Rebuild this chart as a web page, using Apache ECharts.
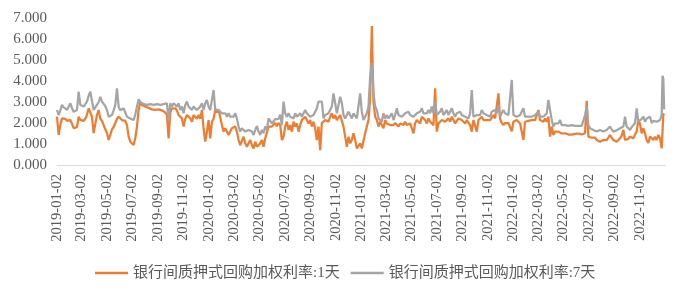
<!DOCTYPE html>
<html><head><meta charset="utf-8">
<script src="https://cdn.jsdelivr.net/npm/echarts@6/dist/echarts.min.js"></script>
<style>html,body{margin:0;padding:0;background:#fff}#c{width:684px;height:299px}</style>
</head><body><div id="c"></div>
<script>
const dates = [
'2019-01-02','2019-01-06','2019-01-10','2019-01-14','2019-01-18','2019-01-22','2019-01-26','2019-01-30',
'2019-02-03','2019-02-07','2019-02-11','2019-02-15','2019-02-19','2019-02-23','2019-02-27',
'2019-03-03','2019-03-07','2019-03-11','2019-03-15','2019-03-19','2019-03-23','2019-03-27','2019-03-31',
'2019-04-04','2019-04-08','2019-04-12','2019-04-16','2019-04-20','2019-04-24','2019-04-28',
'2019-05-02','2019-05-06','2019-05-10','2019-05-14','2019-05-18','2019-05-22','2019-05-26','2019-05-30',
'2019-06-03','2019-06-07','2019-06-11','2019-06-15','2019-06-19','2019-06-23','2019-06-27',
'2019-07-01','2019-07-05','2019-07-09','2019-07-13','2019-07-17','2019-07-21','2019-07-25','2019-07-29',
'2019-08-02','2019-08-06','2019-08-10','2019-08-14','2019-08-18','2019-08-22','2019-08-26','2019-08-30',
'2019-09-03','2019-09-07','2019-09-11','2019-09-15','2019-09-19','2019-09-23','2019-09-27',
'2019-10-01','2019-10-05','2019-10-09','2019-10-13','2019-10-17','2019-10-21','2019-10-25','2019-10-29',
'2019-11-02','2019-11-06','2019-11-10','2019-11-14','2019-11-18','2019-11-22','2019-11-26','2019-11-30',
'2019-12-04','2019-12-08','2019-12-12','2019-12-16','2019-12-20','2019-12-24','2019-12-28',
'2020-01-01','2020-01-05','2020-01-09','2020-01-13','2020-01-17','2020-01-21','2020-01-25','2020-01-29',
'2020-02-02','2020-02-06','2020-02-10','2020-02-14','2020-02-18','2020-02-22','2020-02-26',
'2020-03-01','2020-03-05','2020-03-09','2020-03-13','2020-03-17','2020-03-21','2020-03-25','2020-03-29',
'2020-04-02','2020-04-06','2020-04-10','2020-04-14','2020-04-18','2020-04-22','2020-04-26','2020-04-30',
'2020-05-04','2020-05-08','2020-05-12','2020-05-16','2020-05-20','2020-05-24','2020-05-28',
'2020-06-01','2020-06-05','2020-06-09','2020-06-13','2020-06-17','2020-06-21','2020-06-25','2020-06-29',
'2020-07-03','2020-07-07','2020-07-11','2020-07-15','2020-07-19','2020-07-23','2020-07-27','2020-07-31',
'2020-08-04','2020-08-08','2020-08-12','2020-08-16','2020-08-20','2020-08-24','2020-08-28',
'2020-09-01','2020-09-05','2020-09-09','2020-09-13','2020-09-17','2020-09-21','2020-09-25','2020-09-29',
'2020-10-03','2020-10-07','2020-10-11','2020-10-15','2020-10-19','2020-10-23','2020-10-27','2020-10-31',
'2020-11-04','2020-11-08','2020-11-12','2020-11-16','2020-11-20','2020-11-24','2020-11-28',
'2020-12-02','2020-12-06','2020-12-10','2020-12-14','2020-12-18','2020-12-22','2020-12-26','2020-12-30',
'2021-01-03','2021-01-07','2021-01-11','2021-01-15','2021-01-19','2021-01-23','2021-01-27','2021-01-31',
'2021-02-04','2021-02-08','2021-02-12','2021-02-16','2021-02-20','2021-02-24','2021-02-28',
'2021-03-04','2021-03-08','2021-03-12','2021-03-16','2021-03-20','2021-03-24','2021-03-28',
'2021-04-01','2021-04-05','2021-04-09','2021-04-13','2021-04-17','2021-04-21','2021-04-25','2021-04-29',
'2021-05-03','2021-05-07','2021-05-11','2021-05-15','2021-05-19','2021-05-23','2021-05-27','2021-05-31',
'2021-06-04','2021-06-08','2021-06-12','2021-06-16','2021-06-20','2021-06-24','2021-06-28',
'2021-07-02','2021-07-06','2021-07-10','2021-07-14','2021-07-18','2021-07-22','2021-07-26','2021-07-30',
'2021-08-03','2021-08-07','2021-08-11','2021-08-15','2021-08-19','2021-08-23','2021-08-27','2021-08-31',
'2021-09-04','2021-09-08','2021-09-12','2021-09-16','2021-09-20','2021-09-24','2021-09-28',
'2021-10-02','2021-10-06','2021-10-10','2021-10-14','2021-10-18','2021-10-22','2021-10-26','2021-10-30',
'2021-11-03','2021-11-07','2021-11-11','2021-11-15','2021-11-19','2021-11-23','2021-11-27',
'2021-12-01','2021-12-05','2021-12-09','2021-12-13','2021-12-17','2021-12-21','2021-12-25','2021-12-29',
'2022-01-02','2022-01-06','2022-01-10','2022-01-14','2022-01-18','2022-01-22','2022-01-26','2022-01-30',
'2022-02-03','2022-02-07','2022-02-11','2022-02-15','2022-02-19','2022-02-23','2022-02-27',
'2022-03-03','2022-03-07','2022-03-11','2022-03-15','2022-03-19','2022-03-23','2022-03-27','2022-03-31',
'2022-04-04','2022-04-08','2022-04-12','2022-04-16','2022-04-20','2022-04-24','2022-04-28',
'2022-05-02','2022-05-06','2022-05-10','2022-05-14','2022-05-18','2022-05-22','2022-05-26','2022-05-30',
'2022-06-03','2022-06-07','2022-06-11','2022-06-15','2022-06-19','2022-06-23','2022-06-27',
'2022-07-01','2022-07-05','2022-07-09','2022-07-13','2022-07-17','2022-07-21','2022-07-25','2022-07-29',
'2022-08-02','2022-08-06','2022-08-10','2022-08-14','2022-08-18','2022-08-22','2022-08-26','2022-08-30',
'2022-09-03','2022-09-07','2022-09-11','2022-09-15','2022-09-19','2022-09-23','2022-09-27',
'2022-10-01','2022-10-05','2022-10-09','2022-10-13','2022-10-17','2022-10-21','2022-10-25','2022-10-29',
'2022-11-02','2022-11-06','2022-11-10','2022-11-14','2022-11-18','2022-11-22','2022-11-26','2022-11-30',
'2022-12-04','2022-12-08','2022-12-12','2022-12-16','2022-12-20','2022-12-24','2022-12-26','2022-12-28','2022-12-30'
];
const r001 = [
2.30,1.43,1.90,2.22,2.25,2.20,2.10,2.06,
2.15,2.20,1.76,1.78,1.80,2.30,2.15,
2.06,2.10,2.20,2.40,2.70,2.62,2.30,1.52,
1.52,2.38,2.62,2.20,2.10,1.90,1.70,
1.52,1.19,1.43,1.70,1.81,2.00,2.20,2.30,
2.25,2.14,2.20,2.10,1.90,1.35,1.11,
1.03,0.95,1.27,1.83,2.62,3.00,2.86,2.80,
2.78,2.70,2.72,2.70,2.65,2.70,2.62,2.62,
2.65,2.70,2.60,2.62,2.50,2.38,1.27,
2.50,2.70,2.70,2.70,2.60,2.38,2.46,2.22,
1.83,2.20,2.38,2.30,2.22,2.06,2.38,2.46,
2.20,2.38,2.20,2.62,1.75,1.11,1.59,
2.14,1.27,2.06,2.20,2.62,2.50,2.62,2.62,
1.90,1.59,1.75,1.59,1.43,1.59,1.75,
1.67,1.83,1.59,1.19,0.95,1.03,1.35,1.03,
0.87,0.95,1.19,0.95,0.79,1.11,0.87,0.79,
1.03,1.19,0.87,1.27,1.35,1.83,1.90,
1.83,1.85,2.00,1.85,2.00,1.90,1.19,1.35,
1.83,2.06,1.67,1.90,1.59,2.06,1.83,1.98,
1.59,1.90,2.14,2.22,2.30,2.22,1.98,
2.14,1.83,2.06,1.75,1.19,1.83,0.71,2.00,
1.98,2.14,2.22,2.06,2.30,2.46,2.22,2.38,
2.14,2.22,2.38,2.30,1.83,1.35,0.87,
1.35,1.03,1.19,1.51,1.19,0.79,0.71,1.03,
0.79,0.87,1.51,1.83,2.14,3.20,6.62,3.00,
2.30,2.14,1.83,2.06,1.90,1.75,2.14,
1.98,2.06,1.90,1.90,1.90,2.00,2.06,
1.83,1.98,1.95,1.90,2.06,1.90,1.95,1.98,
1.75,1.51,1.98,2.14,2.06,1.98,2.30,2.22,
2.14,1.98,2.22,2.06,1.98,1.90,3.65,
1.59,1.98,2.06,2.14,2.22,2.06,2.14,2.22,
2.06,2.30,2.14,1.98,2.06,2.22,2.30,2.14,
2.22,1.98,2.14,2.06,1.90,1.59,2.14,
2.06,1.59,2.14,2.22,2.30,2.14,2.22,2.14,
2.06,2.14,2.06,2.38,2.22,2.14,3.41,
2.20,2.00,1.90,2.00,2.06,2.00,1.98,1.60,
2.06,2.10,2.14,2.06,1.98,2.00,1.19,2.06,
2.14,2.10,2.06,2.14,2.22,2.14,2.14,
2.62,2.14,2.10,2.06,2.22,2.06,2.30,1.35,
1.83,1.43,1.59,1.67,1.59,1.59,1.50,
1.43,1.51,1.43,1.45,1.43,1.45,1.43,1.48,
1.51,1.50,1.51,1.45,1.43,1.51,3.06,
1.35,1.35,1.30,1.27,1.30,1.19,1.15,1.11,
1.20,1.19,1.25,1.19,1.27,1.43,1.30,1.19,
1.15,1.11,1.20,1.27,1.40,1.67,1.19,
1.11,1.25,1.35,1.30,1.27,1.45,1.59,2.14,
1.95,1.51,1.75,1.51,1.19,1.05,1.35,1.27,
1.19,1.35,1.19,1.43,1.27,0.79,0.80,2.40,2.45
];
const r007 = [
2.62,2.38,2.60,2.86,2.75,2.70,2.62,2.62,
2.94,2.70,2.54,2.60,2.62,3.49,2.86,
2.80,2.78,2.90,3.02,3.30,3.49,3.40,2.62,
2.70,2.86,3.00,3.25,3.02,2.94,2.80,
2.62,2.30,2.22,2.38,2.60,2.86,3.65,2.78,
2.60,2.54,2.70,2.50,2.30,2.25,2.22,
2.20,2.14,2.40,2.78,3.13,3.00,2.94,2.90,
2.94,2.86,2.94,2.90,2.94,2.86,2.86,2.90,
2.94,2.86,2.86,2.90,2.94,2.94,2.10,
2.94,2.78,2.94,2.86,2.78,2.94,2.62,2.78,
2.46,2.86,3.02,2.78,2.70,2.62,2.78,2.86,
2.62,2.70,2.78,2.94,2.62,2.94,3.10,
2.78,2.62,2.70,3.57,2.62,2.70,2.62,2.70,
2.46,2.38,2.46,2.30,2.46,2.30,2.22,
2.30,2.46,2.22,1.83,1.59,1.75,1.67,1.59,
1.51,1.67,1.75,1.59,1.43,1.67,1.85,1.59,
1.43,1.67,1.51,1.83,1.67,2.22,2.20,
1.98,1.95,2.18,2.14,2.20,2.40,1.90,3.02,
2.46,2.30,2.46,2.30,2.38,2.22,2.46,2.30,
2.22,2.46,2.30,2.38,2.62,2.46,2.38,
2.30,2.30,2.38,2.30,2.70,3.02,2.94,3.02,
2.22,2.38,2.30,2.46,2.38,2.78,3.41,2.94,
2.46,2.86,3.25,2.94,2.38,2.22,2.38,
2.54,2.46,2.22,2.46,2.38,2.22,2.30,3.41,
2.54,2.14,2.22,2.46,2.78,4.20,4.85,3.41,
2.78,2.62,2.22,2.30,2.06,2.46,2.22,
2.38,2.22,2.30,2.46,2.14,2.38,2.70,
2.38,2.46,2.30,2.38,2.46,2.38,2.54,2.38,
2.46,2.30,2.38,2.46,2.38,2.54,2.70,2.46,
2.38,2.46,2.62,2.46,2.78,2.46,3.00,
2.38,2.46,2.54,2.70,2.38,2.46,2.62,2.38,
2.46,2.70,2.46,2.30,2.46,2.38,2.54,2.38,
2.46,2.30,2.38,2.22,2.46,3.57,2.30,
2.22,2.38,2.46,2.38,2.62,2.46,2.54,2.38,
2.46,2.30,2.54,2.46,2.62,2.46,2.86,
2.30,2.46,2.62,2.46,2.46,2.38,2.46,4.05,
2.38,2.30,2.30,2.38,2.38,2.46,2.70,2.30,
2.38,2.30,2.22,2.30,2.30,2.38,2.38,
2.54,2.30,2.30,2.30,2.38,2.46,3.10,3.17,
2.14,1.83,1.98,2.06,1.98,2.14,1.90,
1.98,1.90,1.90,1.86,1.83,1.90,1.90,1.86,
1.83,1.86,1.90,1.86,1.90,2.38,2.80,
1.90,1.75,1.70,1.67,1.60,1.59,1.65,1.67,
1.60,1.59,1.62,1.67,1.70,1.83,1.70,1.59,
1.62,1.65,1.67,1.75,1.80,1.83,2.30,
1.83,1.75,1.67,1.80,1.90,2.00,2.70,2.06,
2.14,2.20,2.30,2.06,2.22,2.14,2.30,2.00,
2.10,2.14,2.06,2.14,2.14,2.38,4.25,4.10,2.65
];
const tickDates = [
'2019-01-02','2019-03-02','2019-05-02','2019-07-02','2019-09-02','2019-11-02',
'2020-01-02','2020-03-02','2020-05-02','2020-07-02','2020-09-02','2020-11-02',
'2021-01-02','2021-03-02','2021-05-02','2021-07-02','2021-09-02','2021-11-02',
'2022-01-02','2022-03-02','2022-05-02','2022-07-02','2022-09-02','2022-11-02'
];
const axisStart = '2019-01-02';
const axisEnd = '2023-01-01';
const yTicks = [0, 7, 1];
const seriesNames = ['银行间质押式回购加权利率:1天', '银行间质押式回购加权利率:7天'];

// calendar-day category axis spanning the plotted period
const days = [];
(function () {
  const p0 = axisStart.split('-'), p1 = axisEnd.split('-');
  let t = Date.UTC(+p0[0], +p0[1] - 1, +p0[2]);
  const tEnd = Date.UTC(+p1[0], +p1[1] - 1, +p1[2]);
  while (t <= tEnd) { days.push(new Date(t).toISOString().slice(0, 10)); t += 86400000; }
})();
const dayIndex = {};
days.forEach(function (d, i) { dayIndex[d] = i; });
function place(vals) {
  const out = new Array(days.length).fill(null);
  dates.forEach(function (d, i) { out[dayIndex[d]] = vals[i]; });
  return out;
}
const tickSet = {};
tickDates.forEach(function (d) { tickSet[d] = true; });

const txt = '#595959';
const serif = "'Liberation Serif', 'Times New Roman', 'Noto Sans CJK SC', serif";
const chart = echarts.init(document.getElementById('c'), null, { renderer: 'canvas' });
chart.setOption({
  animation: false,
  backgroundColor: '#fff',
  color: ['#ED7D31', '#A5A5A5'],
  grid: { left: 57, right: 19, top: 18, bottom: 134, containLabel: false },
  legend: {
    left: 95, top: 265, padding: 0, icon: 'rect', itemWidth: 33, itemHeight: 2.5, itemGap: 11,
    textStyle: { color: txt, fontSize: 15, fontFamily: serif, lineHeight: 16 },
    data: seriesNames
  },
  xAxis: {
    type: 'category', data: days, boundaryGap: false,
    axisLine: { show: true, lineStyle: { color: '#d9d9d9', width: 1 } },
    axisTick: { show: false },
    splitLine: { show: false },
    axisLabel: {
      interval: function (i, v) { return !!tickSet[v]; },
      rotate: 90, margin: 9,
      color: txt, fontSize: 14.5, fontFamily: serif
    }
  },
  yAxis: {
    type: 'value', min: yTicks[0], max: yTicks[1], interval: yTicks[2],
    axisLine: { show: false }, axisTick: { show: false }, splitLine: { show: false },
    axisLabel: { color: txt, fontSize: 15, fontFamily: serif, margin: 10,
      formatter: function (v) { return v.toFixed(3); } }
  },
  series: [
    { name: seriesNames[0], type: 'line', symbol: 'none', connectNulls: true,
      lineStyle: { width: 2.25, color: '#ED7D31' }, data: place(r001) },
    { name: seriesNames[1], type: 'line', symbol: 'none', connectNulls: true,
      lineStyle: { width: 2.25, color: '#A5A5A5' }, data: place(r007) }
  ]
});
</script>
</body></html>
